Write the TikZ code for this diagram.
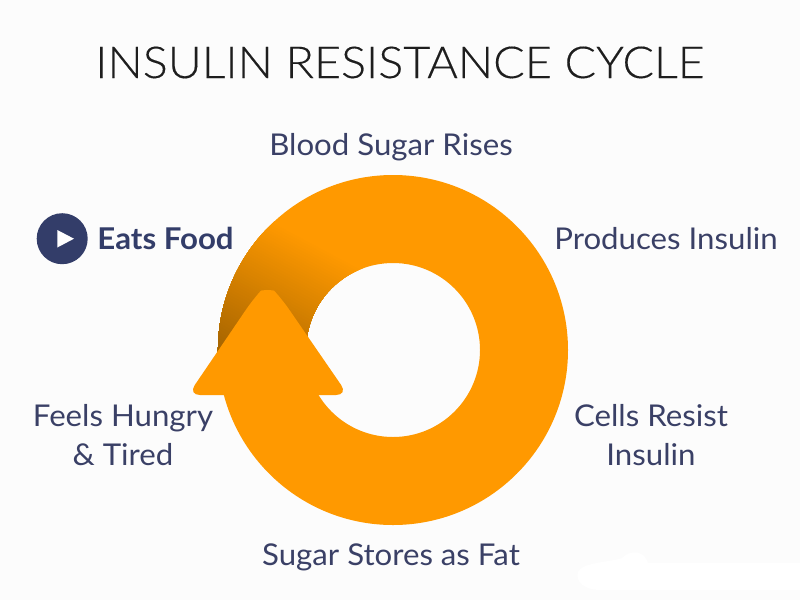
\documentclass[tikz,border=0pt]{standalone}
\usepackage{fontspec}
\usetikzlibrary{calc}
\setmainfont[FakeStretch=1.04]{Lato}
\newfontfamily\titlefont[FakeStretch=1.0625,FakeBold=0.25]{Lato Light}
\definecolor{bgc}{HTML}{FCFCFC}
\definecolor{ringc}{HTML}{FF9900}
\definecolor{darkc}{HTML}{A86600}
\definecolor{inkc}{HTML}{3A4066}
\definecolor{boldc}{HTML}{333D69}
\definecolor{titlec}{HTML}{1E1E1E}
\tikzset{
  label text/.style={text=inkc,inner sep=0pt,font=\fontsize{30}{39}\selectfont,align=center},
  title text/.style={text=titlec,inner sep=0pt,font=\titlefont\fontsize{44}{50}\selectfont},
  bold text/.style={text=boldc,inner sep=0pt,font=\bfseries\fontsize{30}{36}\selectfont}
}
\begin{document}
\begin{tikzpicture}[x=1pt,y=-1pt]
\useasboundingbox (0,0) rectangle (800,600);
\fill[bgc] (0,0) rectangle (800,600);
% faint white smudge at the lower right
\fill[white] (578,572) .. controls (582,562) and (612,562) .. (622,558) .. controls (632,548) and (645,552) .. (648,563) -- (800,563) -- (800,590) -- (600,590) .. controls (585,590) and (575,582) .. (578,572) -- cycle;
\coordinate (c) at (393,350);
% ring
\fill[ringc,even odd rule] (c) circle (175) (c) circle (87);
% shadow cast by the arrow head: overlapping strips from orange to dark
\begin{scope}
\clip ($(c)+(170:175)$) arc (170:290:175) -- ($(c)+(290:87)$) arc (290:170:87) -- cycle;
\begin{scope}[rotate around={-28:(c)}]
\foreach \i in {0,...,50}{
  \pgfmathsetmacro{\pct}{2*\i}
  \fill[darkc!\pct!ringc] (0,{292+2.7*\i}) rectangle (800,700);
}
\end{scope}
\end{scope}
% arrow head
\fill[ringc,rounded corners=12pt] (252.9,299.5) .. controls (261.5,290) and (273.5,290) .. (282.2,299.4) -- (348,395) -- (188,395) -- cycle;
% play badge
\node[circle,fill=boldc,minimum size=51pt,inner sep=0pt] (badge) at (62.2,238.7) {};
\fill[white] (57.3,230) -- (74,238.7) -- (57.3,247.5) -- cycle;
% texts
\node[title text,anchor=base] (title) at (400,78) {INSULIN RESISTANCE CYCLE};
\node[label text,anchor=base] (rises) at (391,155) {Blood Sugar Rises};
\node[label text,anchor=base] (prod) at (666,249) {Produces Insulin};
\node[label text] (cells) at (651,435) {Cells Resist\\Insulin};
\node[label text] (hungry) at (123,435) {Feels Hungry\\\&\ Tired};
\node[label text,anchor=base] (fat) at (391,565) {Sugar Stores as Fat};
\node[bold text,anchor=base] (eats) at (165.5,249) {Eats Food};
\end{tikzpicture}
\end{document}
